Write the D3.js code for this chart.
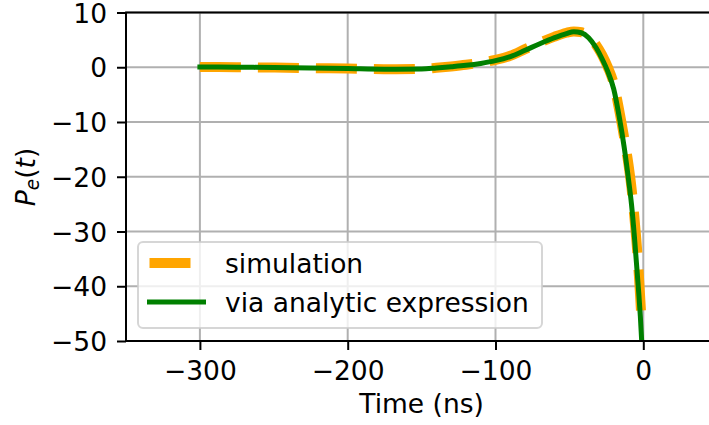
<!DOCTYPE html>
<html>
<head>
<meta charset="utf-8">
<script src="https://cdn.jsdelivr.net/npm/d3@7"></script>
<style>
  html, body { margin: 0; padding: 0; background: #fff; }
  svg { display: block; }
  text { font-family: "DejaVu Sans", sans-serif; fill: #000; }
</style>
</head>
<body>
<svg id="chart" width="709" height="425"></svg>
<script>
// Time samples (ns)
const time = [-300, -275, -250, -225, -200, -175, -150, -140, -130, -120, -110, -100,
  -90, -80, -70, -60, -52, -47, -42, -37, -32, -28, -24, -20, -16, -13, -10,
  -8, -6, -4, -3, -2, -1, 0];

// P_e(t) from the simulation (ends one sample early)
const simulation = [0.05, 0.0, -0.05, -0.15, -0.25, -0.35, -0.3, -0.1, 0.15, 0.45, 0.85, 1.35,
  2.1, 3.3, 4.5, 5.6, 6.3, 6.55, 6.4, 5.7, 4.1, 2.3, 0.0, -3.0, -8.3, -12.8, -17.8,
  -22, -27.5, -34, -38, -42.5, -47.3, null];

// P_e(t) via the analytic expression
const analytic = [0.05, 0.0, -0.05, -0.15, -0.25, -0.35, -0.3, -0.12, 0.1, 0.35, 0.7, 1.2,
  1.95, 3.1, 4.3, 5.4, 6.15, 6.5, 6.3, 5.4, 3.6, 1.6, -0.8, -4.0, -9.5, -14.5, -20.5,
  -25, -31, -38, -41.5, -45.5, -50.5, -55];

const xTicks = [-300, -200, -100, 0];
const yTicks = [10, 0, -10, -20, -30, -40, -50];
const legendLabels = ["simulation", "via analytic expression"];
const colors = { simulation: "#ffa500", analytic: "#008000" };

const svg = d3.select("#chart");
const fontSize = 26.5;
const axL = 126, axT = 12.5, axB = 341;

const x = d3.scaleLinear().domain([-350, 50]).range([axL, axL + 400 * 1.478]);
const y = d3.scaleLinear().domain([-50, 10]).range([axB, axT]);
const axR = x.range()[1];

svg.append("defs").append("clipPath").attr("id", "plotClip")
  .append("rect").attr("x", axL).attr("y", axT)
  .attr("width", axR - axL).attr("height", axB - axT);

// grid
const grid = svg.append("g").attr("stroke", "#b0b0b0").attr("stroke-width", 2);
grid.selectAll("line.v").data(xTicks).join("line").attr("class", "v")
  .attr("x1", d => x(d)).attr("x2", d => x(d)).attr("y1", axT).attr("y2", axB);
grid.selectAll("line.h").data(yTicks).join("line").attr("class", "h")
  .attr("x1", axL).attr("x2", axR).attr("y1", d => y(d)).attr("y2", d => y(d));

// curves
const pts = vals => time.map((t, i) => [t, vals[i]]);
const line = d3.line()
  .defined(d => d[1] !== null)
  .x(d => x(d[0])).y(d => y(d[1]))
  .curve(d3.curveMonotoneX);

const plot = svg.append("g").attr("clip-path", "url(#plotClip)");
plot.append("path").datum(pts(simulation))
  .attr("d", line).attr("fill", "none")
  .attr("stroke", colors.simulation).attr("stroke-width", 10)
  .attr("stroke-dasharray", "41,17").attr("stroke-linecap", "butt");
plot.append("path").datum(pts(analytic))
  .attr("d", line).attr("fill", "none")
  .attr("stroke", colors.analytic).attr("stroke-width", 5)
  .attr("stroke-linecap", "square").attr("stroke-linejoin", "round");

// axes
const fmt = d => d3.format("d")(d).replace("-", "\u2212");
const xAxis = d3.axisBottom(x).tickValues(xTicks).tickSize(9).tickPadding(8).tickFormat(fmt);
const yAxis = d3.axisLeft(y).tickValues(yTicks).tickSize(9).tickPadding(10).tickFormat(fmt);

const gx = svg.append("g").attr("transform", `translate(0,${axB})`).call(xAxis);
const gy = svg.append("g").attr("transform", `translate(${axL},0)`).call(yAxis);
[gx, gy].forEach(g => {
  g.select(".domain").remove();
  g.selectAll(".tick line").attr("stroke", "#000").attr("stroke-width", 2);
  g.selectAll(".tick text").attr("font-size", fontSize)
    .attr("font-family", "DejaVu Sans").attr("fill", "#000");
});
gx.selectAll(".tick text").attr("dy", null).attr("y", 39);
gy.selectAll(".tick text").attr("dy", "0.36em");

// spines
const spines = svg.append("g").attr("stroke", "#000").attr("stroke-width", 2).attr("fill", "none");
spines.append("line").attr("x1", axL).attr("x2", axL).attr("y1", axT).attr("y2", axB + 1);
spines.append("line").attr("x1", axL - 1).attr("x2", axR).attr("y1", axB).attr("y2", axB);
spines.append("line").attr("x1", axL - 1).attr("x2", axR).attr("y1", axT).attr("y2", axT);
spines.append("line").attr("x1", axR).attr("x2", axR).attr("y1", axT).attr("y2", axB);

// axis labels
svg.append("text").attr("x", (axL + axR) / 2).attr("y", 413)
  .attr("text-anchor", "middle").attr("font-size", fontSize).text("Time (ns)");

const yl = svg.append("text")
  .attr("transform", "translate(35,177) rotate(-90)")
  .attr("text-anchor", "middle").attr("font-size", fontSize);
yl.append("tspan").attr("font-style", "italic").text("P");
yl.append("tspan").attr("font-style", "italic").attr("font-size", fontSize * 0.7)
  .attr("dy", 4).text("e");
yl.append("tspan").attr("dy", -4).text("(");
yl.append("tspan").attr("font-style", "italic").text("t");
yl.append("tspan").text(")");

// legend
const lg = svg.append("g");
lg.append("rect").attr("x", 138).attr("y", 242).attr("width", 404).attr("height", 86)
  .attr("rx", 5).attr("ry", 5)
  .attr("fill", "#fff").attr("fill-opacity", 0.8)
  .attr("stroke", "#cccccc").attr("stroke-opacity", 0.8).attr("stroke-width", 2);

const legendItems = [
  { label: legendLabels[0], color: colors.simulation, width: 10, dash: "41,17", cap: "butt", cy: 263 },
  { label: legendLabels[1], color: colors.analytic, width: 5, dash: null, cap: "square", cy: 302 }
];
legendItems.forEach(it => {
  lg.append("line").attr("x1", 149.5).attr("x2", 203.5).attr("y1", it.cy).attr("y2", it.cy)
    .attr("stroke", it.color).attr("stroke-width", it.width)
    .attr("stroke-dasharray", it.dash).attr("stroke-linecap", it.cap);
  lg.append("text").attr("x", 225).attr("y", it.cy + 10)
    .attr("font-size", fontSize).text(it.label);
});
</script>
</body>
</html>
